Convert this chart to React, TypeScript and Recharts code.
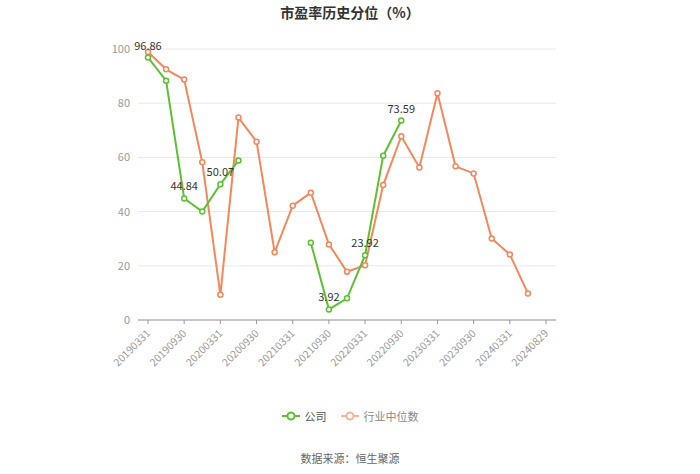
import { CartesianGrid, LabelList, Line, LineChart, XAxis, YAxis } from 'recharts';

const dates = [
  '20190331', '20190630', '20190930', '20191231', '20200331', '20200630', '20200930', '20201231',
  '20210331', '20210630', '20210930', '20211231', '20220331', '20220630', '20220930', '20221231',
  '20230331', '20230630', '20230930', '20231231', '20240331', '20240630', '20240829',
];
const company = [
  96.86, 88.3, 44.84, 40.0, 50.07, 58.9, null, null, null, 28.5, 3.92, 8.0, 23.92, 60.6, 73.59,
  null, null, null, null, null, null, null, null,
];
const industry = [
  98.9, 92.5, 88.7, 58.2, 9.3, 74.7, 65.8, 25.0, 42.2, 47.0, 27.9, 17.8, 20.2, 49.8, 67.8, 56.3,
  83.7, 56.7, 54.1, 30.1, 24.2, 9.8, null,
];
const labeledDates = ['20190331', '20190930', '20200331', '20210930', '20220331', '20220930'];
const yTicks = [0, 20, 40, 60, 80, 100];

const GREEN = '#5cc131';
const ORANGE = '#f4875b';
const FONT = '"Noto Sans CJK SC", "Noto Sans", sans-serif';

const data = dates.map((date, i) => ({ date, company: company[i], industry: industry[i] }));

const DateTick = (props: any) => {
  const { x, y, payload } = props;
  return (
    <text
      x={x + 3}
      y={y + 8}
      transform={`rotate(-45, ${x + 3}, ${y + 8})`}
      textAnchor="end"
      fontSize={10.5}
      fill="#999"
      fontFamily={FONT}
    >
      {payload.value}
    </text>
  );
};

const PointLabel = (props: any) => {
  const { x, y, value, index } = props;
  if (value == null || !labeledDates.includes(dates[index])) return null;
  return (
    <text x={x} y={y - 8} textAnchor="middle" fontSize={11} fill="#333" fontFamily={FONT}>
      {value.toFixed(2)}
    </text>
  );
};

const LegendIcon = ({ color }: { color: string }) => (
  <svg width={18} height={10} style={{ verticalAlign: 'middle' }}>
    <line x1={0} y1={5} x2={18} y2={5} stroke={color} strokeWidth={2} />
    <circle cx={9} cy={5} r={3.5} fill="#fff" stroke={color} strokeWidth={2} />
  </svg>
);

export default function App() {
  return (
    <div style={{ position: 'absolute', left: 0, top: 0, width: 700, height: 474, fontFamily: FONT, background: '#fff' }}>
      <div style={{ position: 'absolute', top: 2, left: 0, width: 700, textAlign: 'center', fontSize: 14, fontWeight: 'bold', color: '#333', lineHeight: '20px' }}>
        市盈率历史分位（%）
      </div>
      <LineChart width={700} height={474} data={data} margin={{ top: 49, right: 144, bottom: 94, left: 0 }}>
        <CartesianGrid vertical={false} stroke="#e8e8e8" />
        <XAxis
          dataKey="date"
          interval={1}
          padding={{ left: 10, right: 10 }}
          height={60}
          tick={<DateTick />}
          tickSize={4}
          axisLine={{ stroke: '#999' }}
          tickLine={{ stroke: '#999' }}
        />
        <YAxis
          domain={[0, 100]}
          ticks={yTicks}
          width={138}
          axisLine={false}
          tickLine={false}
          tick={{ fontSize: 11, fill: '#999', fontFamily: FONT }}
        />
        <Line
          dataKey="industry"
          stroke={ORANGE}
          strokeWidth={2}
          dot={{ r: 2.5, fill: '#fff', stroke: ORANGE, strokeWidth: 1.5 }}
          isAnimationActive={false}
        />
        <Line
          dataKey="company"
          stroke={GREEN}
          strokeWidth={2}
          dot={{ r: 2.5, fill: '#fff', stroke: GREEN, strokeWidth: 1.5 }}
          isAnimationActive={false}
        >
          <LabelList dataKey="company" content={<PointLabel />} />
        </Line>
      </LineChart>
      <div style={{ position: 'absolute', top: 407, left: 0, width: 700, display: 'flex', justifyContent: 'center', alignItems: 'center', fontSize: 11, lineHeight: '18px' }}>
        <LegendIcon color={GREEN} />
        <span style={{ marginLeft: 5, marginRight: 14, color: '#555' }}>公司</span>
        <LegendIcon color="#f8b596" />
        <span style={{ marginLeft: 5, color: '#888' }}>行业中位数</span>
      </div>
      <div style={{ position: 'absolute', top: 450, left: 0, width: 700, textAlign: 'center', fontSize: 11, color: '#666', lineHeight: '16px' }}>
        数据来源：恒生聚源
      </div>
    </div>
  );
}
